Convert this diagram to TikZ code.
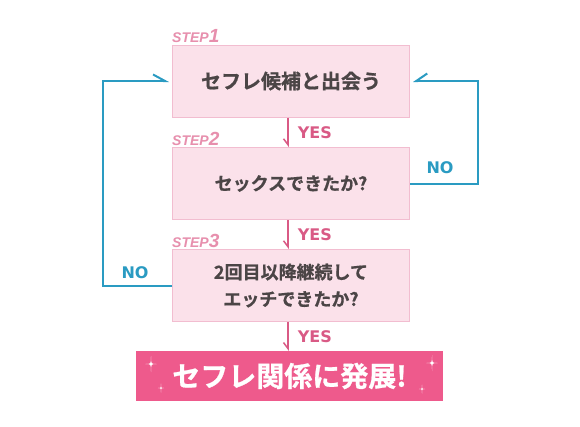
\documentclass[tikz,border=0pt]{standalone}
\usepackage{fontspec}
\setmainfont{DejaVu Sans}
\newfontfamily\tagfont{Liberation Sans}
\newfontfamily\jpfont{Noto Sans CJK JP}[BoldFont={Noto Sans CJK JP Bold}, BoldFeatures={FakeBold=0.8}]
\usetikzlibrary{arrows.meta}
\definecolor{boxfill}{HTML}{FBE1EA}
\definecolor{boxline}{HTML}{F2BDD0}
\definecolor{stepcol}{HTML}{E78FAD}
\definecolor{yescol}{HTML}{D95A85}
\definecolor{nocol}{HTML}{2A9BC2}
\definecolor{goalfill}{HTML}{EE5A8C}
\definecolor{textcol}{HTML}{4B4546}
\tikzset{
    stepbox/.style={draw=boxline, line width=1pt, fill=boxfill, text=textcol,
        minimum width=237pt, minimum height=72pt, inner sep=0pt, align=center,
        font=\jpfont\bfseries\fontsize{18}{27}\selectfont},
    goalbox/.style={fill=goalfill, text=white, minimum width=307pt,
        minimum height=50pt, inner sep=0pt,
        font=\jpfont\bfseries\fontsize{28}{30}\selectfont},
    steplabel/.style={anchor=base west, inner sep=0pt, text=stepcol},
    yesarrow/.style={draw=yescol, line width=1.5pt,
        -{Straight Barb[harpoon, swap, length=6pt, width=9pt]}},
    noarrow/.style={draw=nocol, line width=2pt},
    yeslabel/.style={anchor=west, inner sep=0pt, xshift=9pt, text=yescol,
        font=\bfseries\fontsize{16}{16}\selectfont},
    nolabel/.style={inner sep=0pt, text=nocol,
        font=\bfseries\fontsize{16}{16}\selectfont}
}
\newcommand{\steptag}[1]{\tagfont\itshape\bfseries\fontsize{14}{14}\selectfont STEP\fontsize{19}{19}\selectfont #1}
\begin{document}
\begin{tikzpicture}[x=1pt, y=-1pt]
    \useasboundingbox[fill=white] (0, 0) rectangle (580, 426);

    \node[stepbox, font=\jpfont\bfseries\fontsize{20}{27}\selectfont] (meet) at (291, 81) {セフレ候補と出会う};
    \node[stepbox] (sex) at (291, 183.5) {セックスできたか?};
    \node[stepbox] (again) at (291, 285.5) {2回目以降継続して\\エッチできたか?};
    \node[goalbox] (goal) at (289.5, 376) {セフレ関係に発展!};

    \node[steplabel] (tag1) at ([yshift=2pt]meet.north west) {\steptag{1}};
    \node[steplabel] (tag2) at ([yshift=2pt]sex.north west) {\steptag{2}};
    \node[steplabel] (tag3) at ([yshift=2pt]again.north west) {\steptag{3}};

    % yes: go one step down
    \draw[yesarrow] ([xshift=-3pt]meet.south) -- node[yeslabel] {YES} ([xshift=-3pt]sex.north);
    \draw[yesarrow] ([xshift=-3pt]sex.south) -- node[yeslabel] {YES} ([xshift=-3pt]again.north);
    \draw[yesarrow] ([xshift=-3pt]again.south) -- node[yeslabel] {YES} ([xshift=-1.5pt]goal.north);

    % no: back to step 1
    \draw[noarrow, -{Straight Barb[harpoon, length=12pt, width=13pt]}, shorten >=3pt]
        (again.west) -- ++(-69, 0) |- (meet.west);
    \draw[noarrow, -{Straight Barb[harpoon, swap, length=11pt, width=15pt]}, shorten >=3pt]
        (sex.east) -- ++(68, 0) |- (meet.east);
    \node[nolabel] (no1) at (135, 273) {NO};
    \node[nolabel] (no2) at (440, 168) {NO};

    % sparkles
    \foreach \x/\y/\s in {151/364/8, 161/388/4.5, 432/363/8, 422/389/4.5} {
        \fill[white] (\x, \y-\s) .. controls (\x, \y) .. (\x+0.7*\s, \y)
            .. controls (\x, \y) .. (\x, \y+\s)
            .. controls (\x, \y) .. (\x-0.7*\s, \y)
            .. controls (\x, \y) .. cycle;
    }
\end{tikzpicture}
\end{document}
